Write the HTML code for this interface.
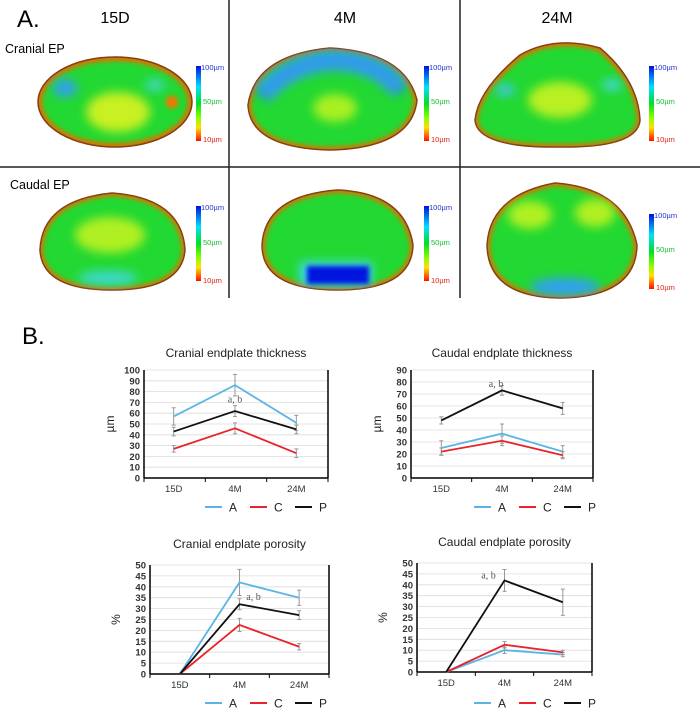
<!DOCTYPE html>
<html><head><meta charset="utf-8">
<style>
body{margin:0;background:#fff;}
svg{display:block;font-family:"Liberation Sans",Arial,sans-serif;}
</style></head>
<body>
<svg id="fig" width="700" height="710" viewBox="0 0 700 710">
<defs>
<linearGradient id="cbar" x1="0" y1="0" x2="0" y2="1">
<stop offset="0" stop-color="#0010e0"/><stop offset="0.28" stop-color="#00e0ff"/><stop offset="0.5" stop-color="#00e020"/><stop offset="0.7" stop-color="#90ff00"/><stop offset="0.82" stop-color="#ffe000"/><stop offset="1" stop-color="#ff1000"/>
</linearGradient>
<filter id="bl" x="-50%" y="-50%" width="200%" height="200%"><feGaussianBlur stdDeviation="5"/></filter>
<filter id="bl2" x="-50%" y="-50%" width="200%" height="200%"><feGaussianBlur stdDeviation="2.5"/></filter>
<clipPath id="c1"><ellipse cx="115" cy="102" rx="77" ry="45"/></clipPath>
<clipPath id="c2"><path d="M40,250 Q42,200 112,193 Q182,198 185,250 Q182,290 112,290 Q42,290 40,250Z"/></clipPath>
<clipPath id="c3"><path d="M248,105 Q255,55 330,48 Q405,52 417,100 Q412,148 330,150 Q250,148 248,105Z"/></clipPath>
<clipPath id="c4"><path d="M262,245 Q265,195 338,190 Q405,193 413,245 Q412,290 338,290 Q262,290 262,245Z"/></clipPath>
<clipPath id="c5"><path d="M475,120 Q478,90 520,55 Q555,35 600,48 Q638,80 640,120 Q638,148 560,147 Q477,148 475,120Z"/></clipPath>
<clipPath id="c6"><path d="M487,245 Q490,195 555,183 Q625,188 637,245 Q636,297 560,298 Q488,297 487,245Z"/></clipPath>
</defs>

<g>
<line x1="229" y1="0" x2="229" y2="298" stroke="#222" stroke-width="1.5"/>
<line x1="460" y1="0" x2="460" y2="298" stroke="#222" stroke-width="1.5"/>
<line x1="0" y1="167" x2="700" y2="167" stroke="#222" stroke-width="1.5"/>
<text x="17" y="27" font-size="24">A.</text>
<text x="115" y="23" font-size="16" text-anchor="middle">15D</text>
<text x="345" y="23" font-size="16" text-anchor="middle">4M</text>
<text x="557" y="23" font-size="16" text-anchor="middle">24M</text>
<text x="5" y="53" font-size="12.5">Cranial EP</text>
<text x="10" y="189" font-size="12.5">Caudal EP</text>

<g>
<ellipse cx="115" cy="102" rx="77" ry="45" fill="#e07000" stroke="#8a3a10" stroke-width="1.5"/>
<g clip-path="url(#c1)">
<ellipse cx="115" cy="102" rx="73" ry="41" fill="#20d830" filter="url(#bl2)"/>
<ellipse cx="65" cy="88" rx="12" ry="9" fill="#30a0f0" filter="url(#bl)"/>
<ellipse cx="155" cy="85" rx="10" ry="6" fill="#40d8c0" filter="url(#bl)"/>
<ellipse cx="118" cy="112" rx="32" ry="20" fill="#c8f020" filter="url(#bl)"/>
<ellipse cx="172" cy="102" rx="6" ry="6" fill="#ff7000" filter="url(#bl2)"/>
</g></g>
<g>
<path d="M40,250 Q42,200 112,193 Q182,198 185,250 Q182,290 112,290 Q42,290 40,250Z" fill="#e07000" stroke="#8a3a10" stroke-width="1.5"/>
<g clip-path="url(#c2)">
<path d="M43,250 Q45,203 112,196 Q179,201 182,250 Q179,287 112,287 Q45,287 43,250Z" fill="#20d830" filter="url(#bl2)"/>
<ellipse cx="110" cy="235" rx="35" ry="18" fill="#b0f020" filter="url(#bl)"/>
<ellipse cx="108" cy="278" rx="30" ry="7" fill="#40d8d0" filter="url(#bl)"/>
</g></g>
<g>
<path d="M248,105 Q255,55 330,48 Q405,52 417,100 Q412,148 330,150 Q250,148 248,105Z" fill="#e07000" stroke="#8a3a10" stroke-width="1.5"/>
<g clip-path="url(#c3)">
<path d="M251,105 Q258,58 330,51 Q402,55 414,100 Q409,145 330,147 Q253,145 251,105Z" fill="#20d830" filter="url(#bl2)"/>
<path d="M262,95 Q290,62 335,60 Q380,62 400,90" fill="none" stroke="#2060f0" stroke-width="16" filter="url(#bl)"/>
<path d="M262,95 Q290,62 335,60 Q380,62 400,90" fill="none" stroke="#40d0f0" stroke-width="22" opacity="0.5" filter="url(#bl)"/>
<ellipse cx="335" cy="108" rx="22" ry="14" fill="#a8f020" filter="url(#bl)"/>
</g></g>
<g>
<path d="M262,245 Q265,195 338,190 Q405,193 413,245 Q412,290 338,290 Q262,290 262,245Z" fill="#e07000" stroke="#8a3a10" stroke-width="1.5"/>
<g clip-path="url(#c4)">
<path d="M265,245 Q268,198 338,193 Q402,196 410,245 Q409,287 338,287 Q265,287 265,245Z" fill="#20d830" filter="url(#bl2)"/>
<rect x="300" y="262" width="72" height="24" fill="#40d8f0" filter="url(#bl)"/>
<rect x="307" y="266" width="62" height="18" fill="#0018e0" filter="url(#bl2)"/>
</g></g>
<g>
<path d="M475,120 Q478,90 520,55 Q555,35 600,48 Q638,80 640,120 Q638,148 560,147 Q477,148 475,120Z" fill="#e07000" stroke="#8a3a10" stroke-width="1.5"/>
<g clip-path="url(#c5)">
<path d="M478,120 Q481,92 522,58 Q555,39 598,51 Q635,82 637,120 Q635,145 560,144 Q480,145 478,120Z" fill="#20d830" filter="url(#bl2)"/>
<ellipse cx="505" cy="90" rx="10" ry="6" fill="#40c8e0" filter="url(#bl)"/>
<ellipse cx="612" cy="85" rx="10" ry="6" fill="#40d8d0" filter="url(#bl)"/>
<ellipse cx="560" cy="100" rx="32" ry="18" fill="#b8f020" filter="url(#bl)"/>
</g></g>
<g>
<path d="M487,245 Q490,195 555,183 Q625,188 637,245 Q636,297 560,298 Q488,297 487,245Z" fill="#e07000" stroke="#8a3a10" stroke-width="1.5"/>
<g clip-path="url(#c6)">
<path d="M490,245 Q493,198 555,186 Q622,191 634,245 Q633,294 560,295 Q491,294 490,245Z" fill="#20d830" filter="url(#bl2)"/>
<ellipse cx="530" cy="215" rx="22" ry="14" fill="#b0f020" filter="url(#bl)"/>
<ellipse cx="595" cy="213" rx="20" ry="14" fill="#b0f020" filter="url(#bl)"/>
<ellipse cx="565" cy="287" rx="35" ry="9" fill="#30a0f0" filter="url(#bl)"/>
</g></g>

<g>
<rect x="196" y="66" width="5" height="75" fill="url(#cbar)"/>
<text x="201" y="70" font-size="7.5" fill="#2030d0">100µm</text><text x="203" y="104" font-size="7.5" fill="#10c030">50µm</text><text x="203" y="142" font-size="7.5" fill="#e02010">10µm</text>
<rect x="196" y="206" width="5" height="75" fill="url(#cbar)"/>
<text x="201" y="210" font-size="7.5" fill="#2030d0">100µm</text><text x="203" y="245" font-size="7.5" fill="#10c030">50µm</text><text x="203" y="283" font-size="7.5" fill="#e02010">10µm</text>
<rect x="424" y="66" width="5" height="75" fill="url(#cbar)"/>
<text x="429" y="70" font-size="7.5" fill="#2030d0">100µm</text><text x="431" y="104" font-size="7.5" fill="#10c030">50µm</text><text x="431" y="142" font-size="7.5" fill="#e02010">10µm</text>
<rect x="424" y="206" width="5" height="75" fill="url(#cbar)"/>
<text x="429" y="210" font-size="7.5" fill="#2030d0">100µm</text><text x="431" y="245" font-size="7.5" fill="#10c030">50µm</text><text x="431" y="283" font-size="7.5" fill="#e02010">10µm</text>
<rect x="649" y="66" width="5" height="75" fill="url(#cbar)"/>
<text x="654" y="70" font-size="7.5" fill="#2030d0">100µm</text><text x="656" y="104" font-size="7.5" fill="#10c030">50µm</text><text x="656" y="142" font-size="7.5" fill="#e02010">10µm</text>
<rect x="649" y="214" width="5" height="75" fill="url(#cbar)"/>
<text x="654" y="218" font-size="7.5" fill="#2030d0">100µm</text><text x="656" y="252" font-size="7.5" fill="#10c030">50µm</text><text x="656" y="290" font-size="7.5" fill="#e02010">10µm</text>
</g>
</g>

<text x="22" y="344" font-size="24">B.</text>
<g id="charts"></g>
</svg>
<script>
const categories = ["15D","4M","24M"];
const seriesNames = ["A","C","P"];
const seriesColors = ["#5ab4e6","#e8242a","#111111"];
// Cranial thickness
const crThickA = [57,86,51], crThickAErr = [8,10,7];
const crThickC = [27,46,23], crThickCErr = [3,5,4];
const crThickP = [43,62,45], crThickPErr = [4,5,4];
const crThickTicks = [0,10,20,30,40,50,60,70,80,90,100];
// Caudal thickness
const caThickA = [25,37,22], caThickAErr = [6,8,5];
const caThickC = [22,31,19], caThickCErr = [3,4,3];
const caThickP = [48,73,58], caThickPErr = [3,4,5];
const caThickTicks = [0,10,20,30,40,50,60,70,80,90];
// Cranial porosity
const crPorA = [0,42,35], crPorAErr = [0,6,3.5];
const crPorC = [0,22.5,12.5], crPorCErr = [0,3,1.5];
const crPorP = [0,32,27], crPorPErr = [0,2.5,2];
const crPorTicks = [0,5,10,15,20,25,30,35,40,45,50];
// Caudal porosity
const caPorA = [0,10,8], caPorAErr = [0,1.5,1];
const caPorC = [0,12.5,9], caPorCErr = [0,1.5,1];
const caPorP = [0,42,32], caPorPErr = [0,5,6];
const caPorTicks = [0,5,10,15,20,25,30,35,40,45,50];

const NS = "http://www.w3.org/2000/svg";
const root = document.getElementById("charts");
function mk(tag, attrs, parent){const e=document.createElementNS(NS,tag);for(const k in attrs)e.setAttribute(k,attrs[k]);(parent||root).appendChild(e);return e;}

function chart(cfg){
  const g = mk("g",{});
  
  
  const ymax = cfg.ticks[cfg.ticks.length-1];
  const y = v => cfg.y0 - (v/ymax)*(cfg.y0-cfg.y1);
  const band = (cfg.x1-cfg.x0)/categories.length;
  const x = i => cfg.x0 + band*(i+0.5) + (cfg.shift||0);
  const t = mk("text",{x:(cfg.x0+cfg.x1)/2,y:cfg.titleY,"font-size":12,"text-anchor":"middle",fill:"#222"},g);
  t.textContent = cfg.title;
  
  
  cfg.ticks.forEach(v=>{
    if(v>0) mk("line",{x1:cfg.x0,x2:cfg.x1,y1:y(v),y2:y(v),stroke:"#dcdcdc","stroke-width":0.8},g);
    const tl = mk("text",{x:cfg.x0-4,y:y(v)+3.5,"font-size":9.5,"font-weight":"bold","text-anchor":"end",fill:"#333"},g);
    tl.textContent = v;
    
    
  });
  mk("line",{x1:cfg.x0,x2:cfg.x0,y1:cfg.y1,y2:cfg.y0,stroke:"#000","stroke-width":1.5},g);
  mk("line",{x1:cfg.x1,x2:cfg.x1,y1:cfg.y1,y2:cfg.y0,stroke:"#000","stroke-width":1.5},g);
  mk("line",{x1:cfg.x0,x2:cfg.x1,y1:cfg.y0,y2:cfg.y0,stroke:"#000","stroke-width":1.5},g);
  for(let i=0;i<=categories.length;i++){
    const xx=cfg.x0+band*i; mk("line",{x1:xx,x2:xx,y1:cfg.y0,y2:cfg.y0+4,stroke:"#000"},g);
  }
  categories.forEach((c,i)=>{
    const cl = mk("text",{x:x(i),y:cfg.y0+14,"font-size":9.5,"text-anchor":"middle",fill:"#333"},g);
    cl.textContent=c;
    
    
  });
  const yt = mk("text",{x:cfg.x0-30,y:(cfg.y0+cfg.y1)/2,"font-size":12,"text-anchor":"middle",fill:"#222",transform:`rotate(-90 ${cfg.x0-30} ${(cfg.y0+cfg.y1)/2})`},g);
  yt.textContent = cfg.ylabel;
  
  
  cfg.series.forEach((s,si)=>{
    const vals=s[0], errs=s[1];
    vals.forEach((v,i)=>{ if(errs[i]>0){
      const e=mk("path",{d:`M${x(i)},${y(v-errs[i])}V${y(v+errs[i])}M${x(i)-2},${y(v-errs[i])}h4M${x(i)-2},${y(v+errs[i])}h4`,stroke:"#999","stroke-width":1,fill:"none"},g);
      
      
    }});
    const p=mk("polyline",{points:vals.map((v,i)=>x(i)+","+y(v)).join(" "),fill:"none",stroke:seriesColors[si],"stroke-width":1.8},g);
    
    
  });
  const an = mk("text",{x:x(1)+cfg.annDx,y:y(cfg.annV),"font-size":10,"font-family":"Liberation Serif, serif","text-anchor":"middle",fill:"#555"},g);
  an.textContent="a, b";
  
  
  seriesNames.forEach((n,si)=>{
    const lx = cfg.legX + si*45;
    const ll = mk("line",{x1:lx,x2:lx+17,y1:cfg.legY,y2:cfg.legY,stroke:seriesColors[si],"stroke-width":2},g);
    
    
    const lt = mk("text",{x:lx+24,y:cfg.legY+4.5,"font-size":12,fill:"#222"},g);
    lt.textContent=n;
    
    
  });
}

chart({name:"cranial-thickness-chart",title:"Cranial endplate thickness",ylabel:"µm",x0:144,x1:328,y0:478,y1:370,titleY:357,ticks:crThickTicks,
  series:[[crThickA,crThickAErr],[crThickC,crThickCErr],[crThickP,crThickPErr]],annDx:0,annV:70,legX:205,legY:507,shift:-1});
chart({name:"caudal-thickness-chart",title:"Caudal endplate thickness",ylabel:"µm",x0:411,x1:593,y0:478,y1:370,titleY:357,ticks:caThickTicks,
  series:[[caThickA,caThickAErr],[caThickC,caThickCErr],[caThickP,caThickPErr]],annDx:-6,annV:76,legX:474,legY:507,shift:0});
chart({name:"cranial-porosity-chart",title:"Cranial endplate porosity",ylabel:"%",x0:150,x1:329,y0:674,y1:565,titleY:548,ticks:crPorTicks,
  series:[[crPorA,crPorAErr],[crPorC,crPorCErr],[crPorP,crPorPErr]],annDx:14,annV:34,legX:205,legY:703,shift:0});
chart({name:"caudal-porosity-chart",title:"Caudal endplate porosity",ylabel:"%",x0:417,x1:592,y0:672,y1:563,titleY:546,ticks:caPorTicks,
  series:[[caPorA,caPorAErr],[caPorC,caPorCErr],[caPorP,caPorPErr]],annDx:-16,annV:43,legX:474,legY:703,shift:0});
</script>
</body></html>
